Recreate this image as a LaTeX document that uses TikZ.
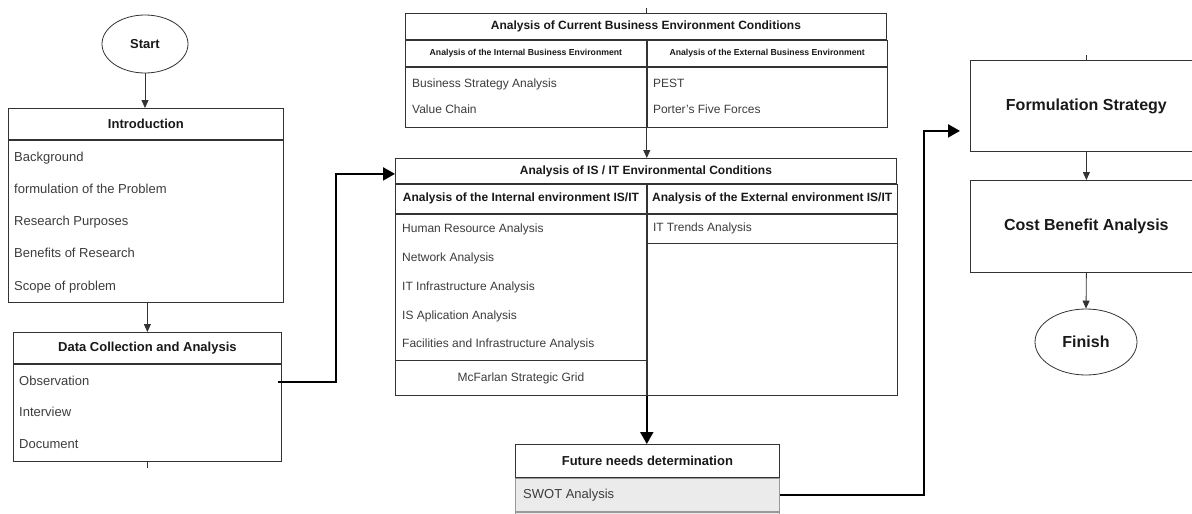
\documentclass[tikz,border=0pt]{standalone}
\usepackage{fontspec}
\setmainfont{Liberation Sans}
\usetikzlibrary{shapes.geometric,arrows.meta,calc}
\definecolor{linec}{HTML}{333333}
\definecolor{itemc}{HTML}{3C3C3C}
\definecolor{rowfill}{HTML}{EBEBEB}

\tikzset{
  box/.style={draw=linec, line width=0.8pt, inner sep=0pt, anchor=north west, text=black!90},
  term/.style={ellipse, draw=linec, line width=0.8pt, inner sep=0pt, text=black!90},
  item/.style={anchor=west, inner sep=0pt, text=itemc},
  flow/.style={line width=0.8pt, draw=linec, -{Triangle[width=7pt,length=8pt]}},
  bigflow/.style={line width=2pt, -{Triangle[width=13pt,length=12pt]}},
  rg12/.style={font=\fontsize{12}{14}\selectfont, text height=8.8pt, text depth=2.5pt},
  rg13/.style={font=\fontsize{13}{15}\selectfont, text height=9.5pt, text depth=2.7pt},
  bf9/.style={font=\fontsize{8.7}{10}\selectfont\bfseries},
  bf12/.style={font=\fontsize{12}{14}\selectfont\bfseries},
  bf13/.style={font=\fontsize{13}{15}\selectfont\bfseries},
  bf16/.style={font=\fontsize{16}{18}\selectfont\bfseries},
}

\begin{document}
\begin{tikzpicture}[x=1pt, y=-1pt]
\path[use as bounding box] (0,0) rectangle (1192,514);
\clip (0,0) rectangle (1192,514);

\node[term, bf13, minimum width=86, minimum height=58] (start) at (145,44) {Start};
\node[box, bf13, minimum width=275, minimum height=31] (introhead) at (8,108) {Introduction};
\node[box, minimum width=275, minimum height=162] (introbody) at (introhead.south west) {};
\foreach \txt [count=\i] in {Background, formulation of the Problem, Research Purposes, Benefits of Research, Scope of problem}
  \node[item, rg13] (intro\i) at ($(introbody.north west)+(6,{18+32.25*(\i-1)})$) {\txt};

\node[box, bf13, minimum width=268, minimum height=31] (datahead) at (13,332) {Data Collection and Analysis};
\node[box, minimum width=268, minimum height=97] (databody) at (datahead.south west) {};
\foreach \txt [count=\i] in {Observation, Interview, Document}
  \node[item, rg13] (data\i) at ($(databody.north west)+(6,{18+31.5*(\i-1)})$) {\txt};

\node[box, bf12, minimum width=481, minimum height=26] (bizhead) at (405,13) {Analysis of Current Business Environment Conditions};
\node[box, bf9, minimum width=241, minimum height=26] (bizin) at (bizhead.south west) {Analysis of the Internal Business Environment};
\node[box, bf9, minimum width=240, minimum height=26] (bizex) at (bizin.north east) {Analysis of the External Business Environment};
\node[box, minimum width=241, minimum height=60] (bizinbody) at (bizin.south west) {};
\node[box, minimum width=240, minimum height=60] (bizexbody) at (bizinbody.north east) {};
\node[item, rg12] (bizin1) at ($(bizinbody.north west)+(7,18)$) {Business Strategy Analysis};
\node[item, rg12] (bizin2) at ($(bizinbody.north west)+(7,44)$) {Value Chain};
\node[item, rg12] (bizex1) at ($(bizexbody.north west)+(6,18)$) {PEST};
\node[item, rg12] (bizex2) at ($(bizexbody.north west)+(6,44)$) {Porter's Five Forces};

\node[box, bf12, minimum width=501, minimum height=25] (ishead) at (395,158) {Analysis of IS / IT Environmental Conditions};
\node[box, bf12, minimum width=251, minimum height=29] (isin) at (ishead.south west) {Analysis of the Internal environment IS/IT};
\node[box, bf12, minimum width=250, minimum height=29] (isex) at (isin.north east) {Analysis of the External environment IS/IT};
\node[box, minimum width=251, minimum height=146] (isinbody) at (isin.south west) {};
\node[box, rg12, text=itemc, minimum width=251, minimum height=35] (isgrid) at (isinbody.south west) {McFarlan Strategic Grid};
\node[box, minimum width=250, minimum height=29] (isexbody) at (isex.south west) {};
\node[box, minimum width=250, minimum height=152] (isexrest) at (isexbody.south west) {};
\foreach \txt [count=\i] in {Human Resource Analysis, Network Analysis, IT Infrastructure Analysis, IS Aplication Analysis, Facilities and Infrastructure Analysis}
  \node[item, rg12] (isin\i) at ($(isinbody.north west)+(7,{16+28.8*(\i-1)})$) {\txt};
\node[item, rg12] (isex1) at ($(isexbody.west)+(6,0)$) {IT Trends Analysis};

\node[box, bf13, minimum width=264, minimum height=33] (futhead) at (515,444) {Future needs determination};
\node[box, draw=black!40, fill=rowfill, minimum width=264, minimum height=33] (futswot) at (futhead.south west) {};
\node[box, draw=black!40, fill=rowfill, minimum width=264, minimum height=33] (futnext) at (futswot.south west) {};
\node[item, rg13] (swot) at ($(futswot.west)+(8,0)$) {SWOT Analysis};

\node[box, bf16, minimum width=232, minimum height=91] (formbox) at (970,60) {Formulation Strategy};
\node[box, bf16, minimum width=232, minimum height=92] (costbox) at (970,180) {Cost Benefit Analysis};
\node[term, bf16, minimum width=102, minimum height=66] (finish) at (1086,342) {Finish};

\draw[flow] (start.south) -- (start.south |- introhead.north);
\draw[flow] (datahead.north |- introbody.south) -- (datahead.north);
\draw[bigflow] ($(data1 -| databody.east)+(-4,0)$) -| ($(ishead.west)+(-59,3)$) -- ($(ishead.west)+(0,3)$);
\draw[flow] (bizinbody.south east) -- (bizinbody.south east |- ishead.north);
\draw[bigflow] (isgrid.south east) -- (isgrid.south east |- futhead.north);
\draw[bigflow, shorten >=10pt] (futswot.east) -| ($(formbox.west)+(-46,25)$) -- ($(formbox.west)+(0,25)$);
\draw[flow] (formbox.south) -- (costbox.north);
\draw[flow] (costbox.south) -- (finish.north);

\draw[linec, line width=0.8pt] (bizhead.north -| bizinbody.south east) -- ++(0,-5);
\draw[linec, line width=0.8pt] (databody.south) -- ++(0,6);
\draw[linec, line width=0.8pt] (formbox.north) -- ++(0,-5);
\end{tikzpicture}
\end{document}
